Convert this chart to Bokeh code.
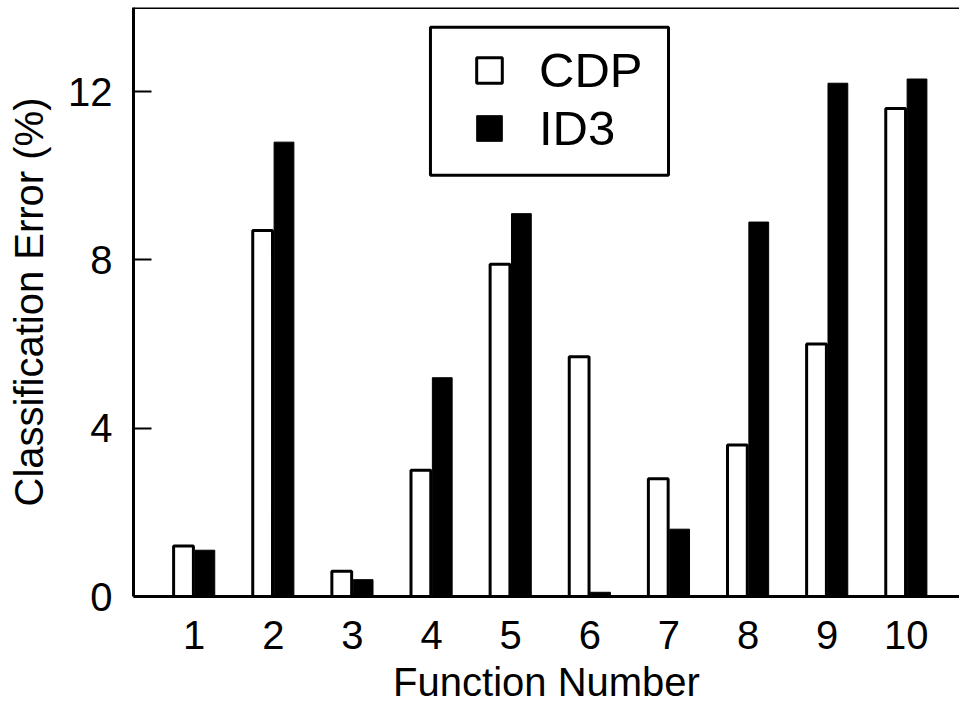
from bokeh.plotting import figure
from bokeh.models import (Range1d, FixedTicker, Span, BoxAnnotation, Legend,
                          LegendItem, ColumnDataSource)
from bokeh.embed import file_html
from bokeh.resources import INLINE

# ---- data -------------------------------------------------------------
functions = [1, 2, 3, 4, 5, 6, 7, 8, 9, 10]
cdp_error = [1.2, 8.7, 0.6, 3.0, 7.9, 5.7, 2.8, 3.6, 6.0, 11.6]
id3_error = [1.1, 10.8, 0.4, 5.2, 9.1, 0.1, 1.6, 8.9, 12.2, 12.3]
series_names = ["CDP", "ID3"]
y_ticks = [0, 4, 8, 12]
x_ticks = functions

# ---- styling constants ------------------------------------------------
FONT = "Liberation Sans"
BAR_W = 0.25
OFF = 0.135

src = ColumnDataSource(dict(
    fn=functions,
    cdp=cdp_error,
    id3=id3_error,
    x_cdp=[f - OFF for f in functions],
    x_id3=[f + OFF for f in functions],
))

p = figure(width=959, height=708, output_backend="svg", toolbar_location=None,
           x_range=Range1d(0.233, 10.672), y_range=Range1d(0, 14),
           min_border_left=133, min_border_right=0, min_border_top=7,
           min_border_bottom=112)

r_cdp = p.vbar(x="x_cdp", top="cdp", bottom=0, width=BAR_W, source=src,
               fill_color="white", line_color="black", line_width=3)
r_id3 = p.vbar(x="x_id3", top="id3", bottom=0, width=BAR_W, source=src,
               fill_color="black", line_color="black", line_width=1)

p.xgrid.visible = False
p.ygrid.visible = False
p.outline_line_color = None
p.background_fill_color = "white"
p.border_fill_color = "white"

# x axis
xa = p.xaxis[0]
xa.ticker = FixedTicker(ticks=x_ticks)
xa.major_tick_in = 0
xa.major_tick_out = 0
xa.minor_tick_line_color = None
xa.axis_line_width = 3
xa.axis_line_color = "black"
xa.major_label_text_font = FONT
xa.major_label_text_font_size = "40px"
xa.major_label_text_color = "black"
xa.major_label_standoff = 24
xa.axis_label = "Function Number"
xa.axis_label_text_font = FONT
xa.axis_label_text_font_size = "40px"
xa.axis_label_text_font_style = "normal"
xa.axis_label_text_color = "black"
xa.axis_label_standoff = 8

# y axis
ya = p.yaxis[0]
ya.ticker = FixedTicker(ticks=y_ticks)
ya.major_tick_in = 18
ya.major_tick_out = 0
ya.major_tick_line_width = 2
ya.major_tick_line_color = "black"
ya.minor_tick_line_color = None
ya.axis_line_width = 3
ya.axis_line_color = "black"
ya.major_label_text_font = FONT
ya.major_label_text_font_size = "40px"
ya.major_label_text_color = "black"
ya.major_label_standoff = 21
ya.axis_label = "Classification Error (%)"
ya.axis_label_text_font = FONT
ya.axis_label_text_font_size = "40px"
ya.axis_label_text_font_style = "normal"
ya.axis_label_text_color = "black"
ya.axis_label_standoff = 14

# top frame line
p.add_layout(Span(location=14, dimension="width", line_color="black",
                  line_width=3))

# legend box + legend
box = BoxAnnotation(left=3.986, right=6.994, top=13.53, bottom=10.01,
                    fill_color="white", fill_alpha=1.0,
                    line_color="black", line_alpha=1.0, line_width=3)
p.add_layout(box)

legend = Legend(items=[LegendItem(label=series_names[0], renderers=[r_cdp]),
                       LegendItem(label=series_names[1], renderers=[r_id3])],
                location=(340, 440), glyph_width=32, glyph_height=32,
                label_standoff=34, label_text_font=FONT,
                label_text_font_size="49px", label_text_color="black",
                padding=10, spacing=2, margin=0,
                border_line_color=None, background_fill_alpha=0)
p.add_layout(legend, "center")

open("out.html", "w").write(file_html(p, INLINE))
